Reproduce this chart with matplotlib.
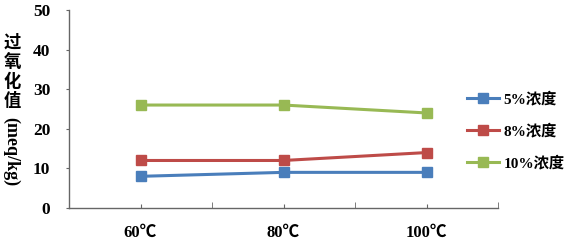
import matplotlib
matplotlib.use("Agg")
import matplotlib.pyplot as plt
import numpy as np

# data
temps = ["60℃", "80℃", "100℃"]
s5 = [8, 9, 9]
s8 = [12, 12, 14]
s10 = [26, 26, 24]
labels = ["5%浓度", "8%浓度", "10%浓度"]
colors = ["#4A7EBB", "#BE4B48", "#98B954"]
yticks = [0, 10, 20, 30, 40, 50]

fonts = ["Liberation Serif", "Noto Sans CJK SC", "DejaVu Sans"]
plt.rcParams["font.family"] = fonts

fig = plt.figure(figsize=(5.68, 2.4), dpi=100)
ax = fig.add_axes([69/568, 1-208/240, (498-69)/568, (208-10)/240])

x = np.arange(len(temps))
for ys, lab, c in zip([s5, s8, s10], labels, colors):
    ax.plot(x, ys, color=c, lw=2.2, marker="s", ms=6.5, label=lab)

ax.set_xlim(-0.5, len(temps)-0.5)
ax.set_ylim(0, 50)
ax.set_yticks(yticks)
ax.set_yticklabels([str(v) for v in yticks], fontsize=12.5, fontweight="bold")
ax.set_xticks(x)
ax.set_xticklabels(temps, fontsize=12, fontweight="bold")
ax.set_xticks(np.arange(-0.5, len(temps), 1), minor=True)
ax.tick_params(axis="x", which="major", length=3, direction="in", pad=12, color="#666666")
ax.tick_params(axis="x", which="minor", length=4, direction="in", color="#666666")
ax.tick_params(axis="y", length=2, direction="out", pad=11.5, color="#666666")
for s in ["top", "right"]:
    ax.spines[s].set_visible(False)
for s in ["left", "bottom"]:
    ax.spines[s].set_color("#666666")
    ax.spines[s].set_linewidth(1)

# y label: stacked characters then rotated unit
for i, ch in enumerate("过氧化值"):
    fig.text(12.5/568, 1-(43.5+19.3*i)/240, ch, fontsize=12.5, fontweight="bold",
             ha="center", va="center", family=fonts)
fig.text(11/568, 1-152/240, "(meq/kg)", fontsize=13, fontweight="bold",
         rotation=270, ha="center", va="center", family=fonts)

fig.legend(loc="center left", bbox_to_anchor=(461/568, 1-131/240), frameon=False,
           prop={"family": fonts, "size": 11, "weight": "bold"},
           handlelength=2.1, handletextpad=0.3, labelspacing=1.1, borderaxespad=0)

fig.savefig("out.png", dpi=100)
